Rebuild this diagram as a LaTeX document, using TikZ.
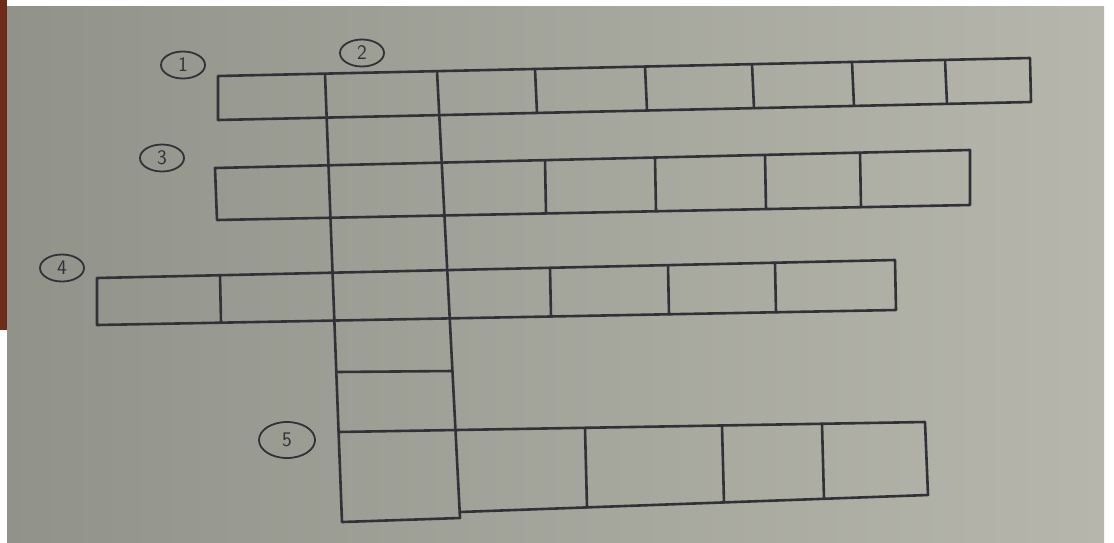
\documentclass[tikz,border=0pt]{standalone}
\usetikzlibrary{shapes.geometric}
\definecolor{paperL}{RGB}{145,147,138}
\definecolor{paperR}{RGB}{182,182,172}
\definecolor{ink}{RGB}{48,50,56}
\definecolor{edge}{RGB}{110,45,25}
\tikzset{
  grid/.style={draw=ink, line width=2.6pt, line cap=round, line join=round},
  numlabel/.style={ellipse, draw=ink, line width=1.8pt, minimum width=44pt, minimum height=27pt, inner sep=0pt, text=ink, font=\sffamily\huge}
}
\begin{document}
\begin{tikzpicture}[x=1pt,y=-1pt]
\useasboundingbox (0,0) rectangle (1114,542);
% background
\fill[white] (0,0) rectangle (1114,542);
\shade[left color=paperL, right color=paperR] (7,6) rectangle (1104,542);
\fill[edge] (0,0) rectangle (7,330);
% labels
\node[numlabel] (n1) at (183,65) {1};
\node[numlabel] (n2) at (362,53) {2};
\node[numlabel] (n3) at (162,158) {3};
\node[numlabel] (n4) at (62,268) {4};
\node[numlabel, minimum width=56pt, minimum height=36pt] (n5) at (287,440) {5};
% vertical column (word 2)
\draw[grid] (325,74) -- (342,522) -- (460,518) -- (437,71);
% row 1
\draw[grid] (218,76) -- (1030,58) -- (1031,102) -- (218,120) -- cycle;
\foreach \x/\yt/\yb in {535/69/113, 645/66.5/110.5, 752/64.2/108.2, 852/62/106, 945/60/104}
  \draw[grid] (\x,\yt) -- (\x+2,\yb);
% row 2
\draw[grid] (215,168) -- (970,150) -- (970,205) -- (217,220) -- cycle;
\foreach \x/\yt/\yb in {545/160.1/213.4, 655/157.5/211.3, 765/154.9/209.1, 860/152.6/207.2}
  \draw[grid] (\x,\yt) -- (\x+1,\yb);
% row 3
\draw[grid] (97,278) -- (895,260) -- (896,310) -- (97,325) -- cycle;
\foreach \x/\yt/\yb in {220/275.2/322.7, 550/267.8/316.5, 668/265.1/314.3, 775/262.7/312.3}
  \draw[grid] (\x,\yt) -- (\x+1,\yb);
% column cell below row 3
\draw[grid] (336.3,372) -- (452.4,371);
% row 4
\draw[grid] (338.6,432) -- (925,422) -- (928,495) -- (460,512);
\foreach \x/\yt/\yb in {585/427.8/507.5, 722/425.5/502.5, 822/423.8/498.9}
  \draw[grid] (\x,\yt) -- (\x+2,\yb);
\end{tikzpicture}
\end{document}
